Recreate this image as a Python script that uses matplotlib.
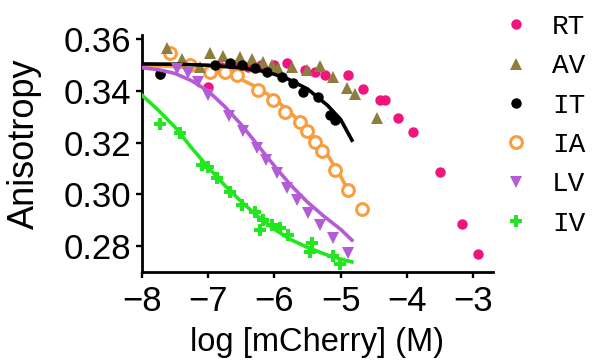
import numpy as np
from matplotlib import pyplot as plt
from matplotlib.lines import Line2D

plt.rcParams['font.family'] = ['Liberation Sans', 'DejaVu Sans']

# measured points (log [mCherry], anisotropy)
rt_x = [-7.73, -7.0, -6.8, -6.6, -6.4, -6.2, -6.0, -5.81, -5.54, -5.39, -5.24, -4.89, -4.66, -4.40, -4.33, -4.13, -3.91, -3.50, -3.17, -2.92]
rt_y = [0.3466, 0.3417, 0.3495, 0.3500, 0.3495, 0.3500, 0.3500, 0.3508, 0.3481, 0.3473, 0.3462, 0.3462, 0.3408, 0.3365, 0.3365, 0.3295, 0.3241, 0.3086, 0.2885, 0.2769]

av_x = [-7.62, -7.40, -7.12, -6.97, -6.78, -6.52, -6.34, -6.17, -6.04, -5.95, -5.73, -5.51, -5.31, -5.11, -4.90, -4.78, -4.45]
av_y = [0.3566, 0.3524, 0.3493, 0.3547, 0.3535, 0.3531, 0.3524, 0.3512, 0.3501, 0.3489, 0.3493, 0.3481, 0.3497, 0.3454, 0.3412, 0.3388, 0.3295]

it_x = [-7.73, -6.90, -6.67, -6.49, -6.29, -6.11, -5.89, -5.72, -5.57, -5.34, -5.16, -5.08]
it_y = [0.3466, 0.3500, 0.3508, 0.3501, 0.3489, 0.3473, 0.3454, 0.3431, 0.3396, 0.3377, 0.3307, 0.3288]

ia_x = [-7.58, -7.27, -6.97, -6.75, -6.56, -6.25, -6.02, -5.84, -5.61, -5.51, -5.39, -5.28, -5.08, -4.89, -4.68]
ia_y = [0.3547, 0.3501, 0.3473, 0.3473, 0.3462, 0.3404, 0.3365, 0.3319, 0.3280, 0.3245, 0.3203, 0.3168, 0.3094, 0.3017, 0.2943]

lv_x = [-7.47, -7.31, -7.15, -7.00, -6.69, -6.47, -6.26, -6.13, -5.96, -5.81, -5.66, -5.49, -5.31, -5.11, -4.89]
lv_y = [0.3485, 0.3470, 0.3435, 0.3384, 0.3303, 0.3245, 0.3179, 0.3133, 0.3083, 0.3025, 0.2978, 0.2928, 0.2881, 0.2831, 0.2773]

iv_x = [-7.73, -7.43, -7.09, -7.00, -6.87, -6.67, -6.49, -6.29, -6.22, -6.17, -6.04, -5.92, -5.80, -5.43, -5.46, -5.11, -5.01]
iv_y = [0.3272, 0.3237, 0.3113, 0.3106, 0.3063, 0.3009, 0.2959, 0.2932, 0.2862, 0.2901, 0.2881, 0.2870, 0.2843, 0.2812, 0.2777, 0.2761, 0.2730]

# fitted curves
it_fx = [-8, -7.5, -7, -6.5, -6.2, -6, -5.8, -5.5, -5.2, -5.0, -4.83]
it_fy = [0.3505, 0.3504, 0.3500, 0.3490, 0.3478, 0.3465, 0.3447, 0.3408, 0.3345, 0.3290, 0.3210]
ia_fx = [-8, -7.5, -7, -6.75, -6.5, -6.25, -6, -5.75, -5.5, -5.25, -5.0, -4.89]
ia_fy = [0.3500, 0.3495, 0.3480, 0.3466, 0.3445, 0.3413, 0.3370, 0.3315, 0.3250, 0.3175, 0.3070, 0.3017]
lv_fx = [-8, -7.75, -7.5, -7.25, -7, -6.75, -6.5, -6.25, -6, -5.75, -5.5, -5.25, -5, -4.83]
lv_fy = [0.3490, 0.3483, 0.3468, 0.3440, 0.3400, 0.3340, 0.3270, 0.3190, 0.3110, 0.3035, 0.2970, 0.2915, 0.2865, 0.2823]
iv_fx = [-8, -7.75, -7.5, -7.25, -7, -6.75, -6.5, -6.25, -6, -5.75, -5.5, -5.25, -5, -4.83]
iv_fy = [0.3384, 0.3325, 0.3260, 0.3180, 0.3105, 0.3035, 0.2972, 0.2915, 0.2865, 0.2825, 0.2795, 0.2770, 0.2750, 0.2739]

labels = ['RT', 'AV', 'IT', 'IA', 'LV', 'IV']
pink = '#F0157D'
olive = '#8E7D3C'
orange = '#F99D3E'
purple = '#B45CD8'
green = '#22E61E'

fig = plt.figure(figsize=(5.92, 3.64), dpi=100)
ax = fig.add_axes([142/592, 1-272/364, 351/592, 237/364])

ax.plot(rt_x, rt_y, 'o', color=pink, ms=7.5, mew=0, zorder=2)
ax.plot(ia_fx, ia_fy, '-', color=orange, lw=2.6, zorder=3)
ax.plot(ia_x, ia_y, 'o', color=orange, mfc='white', ms=8.5, mew=2.2, zorder=3)
ax.plot(av_x, av_y, '^', color=olive, ms=8.5, mew=0, zorder=4)
ax.plot(it_fx, it_fy, '-', color='black', lw=2.6, zorder=5)
ax.plot(it_x, it_y, 'o', color='black', ms=7.5, mew=0, zorder=5)
ax.plot(lv_fx, lv_fy, '-', color=purple, lw=2.6, zorder=6)
ax.plot(lv_x, lv_y, 'v', color=purple, ms=8.5, mew=0, zorder=6)
ax.plot(iv_fx, iv_fy, '-', color=green, lw=2.6, zorder=7)
ax.plot(iv_x, iv_y, 'P', color=green, ms=8.5, mew=0, zorder=7)

ax.set_xlim(-8, -2.7)
ax.set_ylim(0.270, 0.3617)
ax.set_xticks([-8, -7, -6, -5, -4, -3])
ax.set_yticks([0.28, 0.30, 0.32, 0.34, 0.36])
ax.set_yticklabels(['0.28', '0.30', '0.32', '0.34', '0.36'])
ax.spines['top'].set_visible(False)
ax.spines['right'].set_visible(False)
for s in ['left', 'bottom']:
    ax.spines[s].set_linewidth(2.0)
ax.tick_params(direction='out', length=4.5, width=1.7, labelsize=25)
ax.tick_params(axis='x', pad=5)
ax.tick_params(axis='y', pad=3)
ax.set_xlabel('log [mCherry] (M)', fontsize=23.5, labelpad=6)
ax.set_ylabel('Anisotropy', fontsize=26)
ax.yaxis.set_label_coords(-0.285, 0.54)

handles = [
    Line2D([], [], ls='', marker='o', color=pink, ms=7.5, mew=0),
    Line2D([], [], ls='', marker='^', color=olive, ms=8.5, mew=0),
    Line2D([], [], ls='', marker='o', color='black', ms=7.5, mew=0),
    Line2D([], [], ls='', marker='o', color=orange, mfc='white', ms=8.5, mew=2.2),
    Line2D([], [], ls='', marker='v', color=purple, ms=8.5, mew=0),
    Line2D([], [], ls='', marker='P', color=green, ms=8.5, mew=0),
]
fig.legend(handles, labels, loc='upper left', bbox_to_anchor=(488/592, 1.0),
           frameon=False, prop={'family': 'Liberation Mono', 'size': 20},
           handlelength=1.0, handletextpad=0.8, labelspacing=0.48, borderaxespad=0.1)

fig.savefig('out.png', dpi=100)
